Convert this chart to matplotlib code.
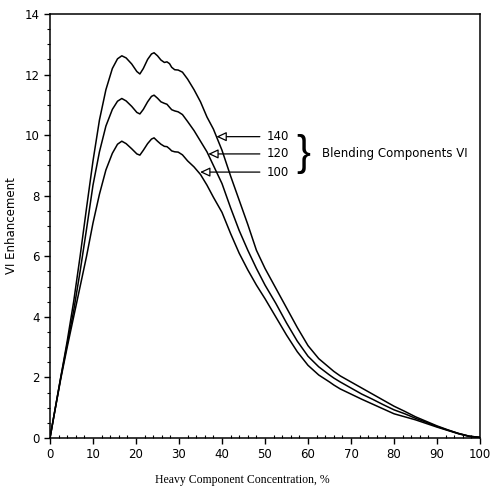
import matplotlib
matplotlib.use("Agg")
import matplotlib.pyplot as plt
from matplotlib.ticker import MultipleLocator

# Heavy component concentration (%) shared by all three curves
conc = [0, 1, 2.5, 4, 5.5, 7, 8.5, 10, 11.5, 13, 14.5, 15.7, 16.7, 17.7, 19, 20.2,
        20.9, 21.7, 22.7, 23.6, 24.2, 25, 25.8, 26.6, 27.2, 27.8, 28.3, 29, 29.8,
        30.8, 32, 33.5, 35, 36.5, 38, 40, 42, 44, 46, 48, 50, 52.5, 55, 57.5, 60,
        62.5, 65, 66, 67.5, 70, 72.5, 75, 77.5, 80, 82.5, 85, 87.5, 90, 92.5, 95,
        97.5, 100]

# VI enhancement for blending component VI = 140, 120, 100
vi_140 = [0, 0.8, 2.0, 3.2, 4.5, 6.0, 7.6, 9.15, 10.5, 11.5, 12.2, 12.52, 12.62, 12.55,
          12.35, 12.1, 12.02, 12.2, 12.5, 12.68, 12.72, 12.62, 12.48, 12.4, 12.42, 12.36,
          12.24, 12.16, 12.15, 12.08, 11.85, 11.5, 11.1, 10.6, 10.2, 9.5, 8.65, 7.85,
          7.05, 6.2, 5.6, 4.95, 4.3, 3.65, 3.05, 2.62, 2.32, 2.2, 2.05, 1.85, 1.65, 1.45,
          1.25, 1.05, 0.88, 0.7, 0.55, 0.4, 0.27, 0.15, 0.06, 0.02]
vi_120 = [0, 0.8, 2.0, 3.1, 4.2, 5.5, 6.9, 8.35, 9.45, 10.3, 10.85, 11.12, 11.21, 11.13,
          10.95, 10.75, 10.7, 10.85, 11.1, 11.28, 11.32, 11.22, 11.1, 11.05, 11.02, 10.92,
          10.84, 10.8, 10.77, 10.68, 10.45, 10.15, 9.8, 9.45, 9.0, 8.4, 7.6, 6.85, 6.2,
          5.6, 5.05, 4.45, 3.8, 3.2, 2.7, 2.35, 2.08, 1.98, 1.85, 1.65, 1.45, 1.28, 1.1,
          0.93, 0.8, 0.65, 0.52, 0.38, 0.26, 0.15, 0.06, 0.02]
vi_100 = [0, 0.8, 1.95, 3.0, 4.0, 5.0, 6.0, 7.1, 8.05, 8.85, 9.4, 9.7, 9.8, 9.72, 9.55,
          9.38, 9.34, 9.5, 9.72, 9.87, 9.91, 9.8, 9.7, 9.63, 9.62, 9.55, 9.48, 9.45, 9.44,
          9.35, 9.15, 8.95, 8.7, 8.35, 7.95, 7.45, 6.75, 6.1, 5.55, 5.05, 4.6, 4.0, 3.4,
          2.85, 2.4, 2.08, 1.85, 1.75, 1.62, 1.45, 1.28, 1.12, 0.96, 0.8, 0.7, 0.6, 0.48,
          0.36, 0.25, 0.14, 0.05, 0.02]

labels = ["140", "120", "100"]
arrow_tip_x = [38.7, 36.8, 34.9]
arrow_tip_y = [9.95, 9.38, 8.78]

fig = plt.figure(figsize=(4.91, 4.91), dpi=100)
ax = fig.add_axes([50 / 491, 53 / 491, 430 / 491, 424 / 491])

for vals in (vi_140, vi_120, vi_100):
    ax.plot(conc, vals, color="black", lw=1.1)

ax.set_xlim(0, 100)
ax.set_ylim(0, 14)
ax.xaxis.set_major_locator(MultipleLocator(10))
ax.xaxis.set_minor_locator(MultipleLocator(2))
ax.yaxis.set_major_locator(MultipleLocator(2))
ax.yaxis.set_minor_locator(MultipleLocator(0.5))
ax.tick_params(which="major", direction="out", length=4, width=1, labelsize=8.5)
ax.tick_params(axis="x", which="minor", direction="in", length=2.5, width=0.8)
ax.tick_params(axis="y", which="minor", direction="out", length=2.5, width=0.8)
for s in ax.spines.values():
    s.set_linewidth(1.1)

ax.set_xlabel("Heavy Component Concentration, %", family="Liberation Serif", fontsize=8.5)
ax.xaxis.set_label_coords(0.447, -0.085)
ax.set_ylabel("VI Enhancement", fontsize=8.5)
ax.yaxis.set_label_coords(-0.075, 0.5)

# arrows pointing to each curve
for lab, tx, ty in zip(labels, arrow_tip_x, arrow_tip_y):
    ax.annotate("", xy=(tx, ty), xytext=(48.8, ty),
                arrowprops=dict(arrowstyle="-|>,head_length=0.6,head_width=0.28",
                                fc="white", ec="black", lw=0.9, shrinkA=0, shrinkB=0))
    ax.text(50.5, ty, lab, fontsize=8.5, va="center", ha="left")

ax.text(58.8, 9.38, "}", fontsize=30, va="center", ha="center", family="Liberation Sans")
ax.text(63.3, 9.38, "Blending Components VI", fontsize=8.5, va="center", ha="left")

fig.savefig("out.png", dpi=100)
